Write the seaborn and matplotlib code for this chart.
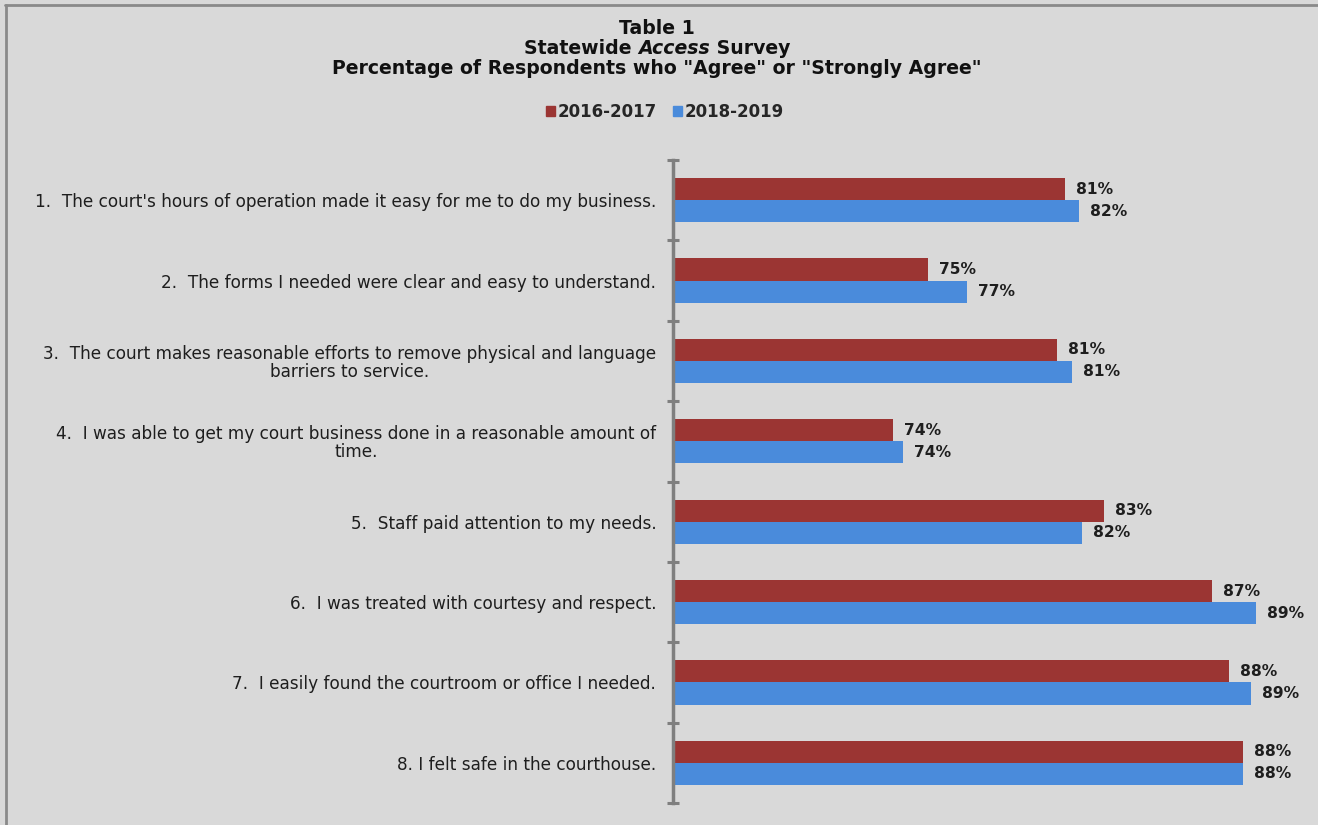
import matplotlib
matplotlib.use("Agg")
import matplotlib.pyplot as plt
import seaborn as sns
import pandas as pd
from matplotlib.lines import Line2D

# ---------------- data ----------------
questions = [
    "1.  The court's hours of operation made it easy for me to do my business.",
    "2.  The forms I needed were clear and easy to understand.",
    "3.  The court makes reasonable efforts to remove physical and language\nbarriers to service.",
    "4.  I was able to get my court business done in a reasonable amount of\ntime.",
    "5.  Staff paid attention to my needs.",
    "6.  I was treated with courtesy and respect.",
    "7.  I easily found the courtroom or office I needed.",
    "8. I felt safe in the courthouse.",
]
series_names = ["2016-2017", "2018-2019"]
values_2016_2017 = [81.0, 75.4, 80.7, 74.0, 82.6, 87.0, 87.7, 88.3]
values_2018_2019 = [81.6, 77.0, 81.3, 74.4, 81.7, 88.8, 88.6, 88.3]
x_min, x_max = 65, 90

colors = ["#9B3533", "#4A8BDB"]
bg = "#D9D9D9"
txt = "#1E1E1E"

df = pd.DataFrame({
    "question": questions * 2,
    "period": [series_names[0]] * len(questions) + [series_names[1]] * len(questions),
    "value": values_2016_2017 + values_2018_2019,
})

sns.set_theme(style="white")
plt.rcParams["font.family"] = ["DejaVu Sans"]

W, H = 1318, 825
fig = plt.figure(figsize=(W / 100, H / 100), dpi=100, facecolor=bg)
ax = fig.add_axes([673 / W, 1 - 803 / H, (1285 - 673) / W, (803 - 160) / H])
ax.set_facecolor(bg)

sns.barplot(data=df, y="question", x="value", hue="period", orient="h",
            palette=colors, width=0.55, ax=ax, legend=False, saturation=1,
            order=questions, hue_order=series_names, linewidth=0)

ax.set_xlim(x_min, x_max)
ax.set_ylim(len(questions) - 0.5, -0.5)
ax.set_xlabel("")
ax.set_ylabel("")
ax.set_xticks([])

for s in ["top", "right", "bottom"]:
    ax.spines[s].set_visible(False)
ax.spines["left"].set_color("#7F7F7F")
ax.spines["left"].set_linewidth(2.5)

ax.tick_params(axis="y", which="major", length=0, pad=12, labelsize=12.2,
               labelcolor=txt)
for lbl in ax.get_yticklabels():
    lbl.set_multialignment("center")
    lbl.set_linespacing(1.0)
ax.set_yticks([i - 0.5 for i in range(len(questions) + 1)], minor=True)
ax.tick_params(axis="y", which="minor", left=True, length=9, width=2.2,
               direction="inout", color="#7F7F7F")

for cont in ax.containers:
    ax.bar_label(cont, labels=[f"{v:.0f}%" for v in cont.datavalues],
                 padding=8, fontsize=11.2, fontweight="bold", color=txt)

# legend
handles = [plt.Rectangle((0, 0), 1, 1, color=c) for c in colors]
fig.legend(handles, series_names, loc="center", bbox_to_anchor=(665 / W, 1 - 112 / H),
           ncol=2, frameon=False, handlelength=0.55, handleheight=0.55,
           handletextpad=0.15, columnspacing=1.0,
           prop={"weight": "bold", "size": 12})

# title
tsize = 13.6
cx = 657 / W
fig.text(cx, 1 - 28 / H, "Table 1", ha="center", va="center",
         fontsize=tsize, fontweight="bold", color="#111111")
fig.text(cx, 1 - 68 / H, 'Percentage of Respondents who "Agree" or "Strongly Agree"',
         ha="center", va="center", fontsize=tsize, fontweight="bold", color="#111111")

renderer = fig.canvas.get_renderer()
parts = [("Statewide ", "normal"), ("Access", "italic"), (" Survey", "normal")]
texts = []
widths = []
for s, st in parts:
    t = fig.text(0, 1 - 48 / H, s, ha="left", va="center", fontsize=tsize,
                 fontweight="bold", fontstyle=st, color="#111111")
    texts.append(t)
    widths.append(t.get_window_extent(renderer).width)
total = sum(widths)
x0 = 657 - total / 2
for t, w in zip(texts, widths):
    t.set_x(x0 / W)
    x0 += w

# frame lines
fig.add_artist(Line2D([5 / W, 1], [1 - 4.5 / H, 1 - 4.5 / H], color="#8A8A8A",
                      lw=2, transform=fig.transFigure))
fig.add_artist(Line2D([5.5 / W, 5.5 / W], [0, 1 - 4.5 / H], color="#8A8A8A",
                      lw=2, transform=fig.transFigure))

fig.savefig("out.png", dpi=100, facecolor=bg)
